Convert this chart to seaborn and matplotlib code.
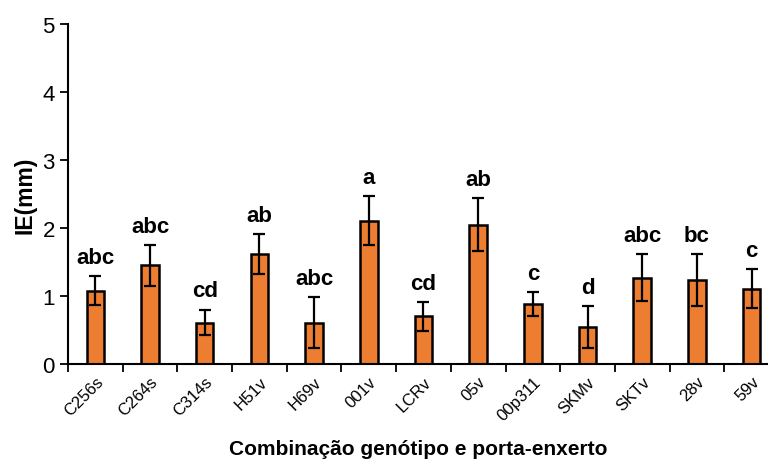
import numpy as np
import pandas as pd
import seaborn as sns
import matplotlib.pyplot as plt
import matplotlib.ticker as mticker

# valores
combinacoes = ["C256s", "C264s", "C314s", "H51v", "H69v", "001v", "LCRv",
               "05v", "00p311", "SKMv", "SKTv", "28v", "59v"]
media_ie = [1.08, 1.45, 0.61, 1.62, 0.61, 2.11, 0.70, 2.05, 0.88, 0.54, 1.27, 1.24, 1.11]
erro_ie = [0.21, 0.30, 0.19, 0.29, 0.37, 0.36, 0.21, 0.39, 0.18, 0.31, 0.35, 0.38, 0.28]
letras = ["abc", "abc", "cd", "ab", "abc", "a", "cd", "ab", "c", "d", "abc", "bc", "c"]

df = pd.DataFrame({"Combinacao": combinacoes, "IE": media_ie})

sns.set_style("white")
plt.rcParams["font.family"] = ["Liberation Sans", "DejaVu Sans"]
plt.rcParams["text.color"] = "black"
plt.rcParams["axes.labelcolor"] = "black"
plt.rcParams["xtick.color"] = "black"
plt.rcParams["ytick.color"] = "black"

fig = plt.figure(figsize=(7.68, 4.64), dpi=100)
ax = fig.add_axes([68 / 768, 1 - 365 / 464, 700 / 768, 340 / 464])

sns.barplot(data=df, x="Combinacao", y="IE", color="#ED7D31", width=0.32,
            edgecolor="black", linewidth=1.8, saturation=1, ax=ax, errorbar=None)

x = np.arange(len(combinacoes))
ax.errorbar(x, media_ie, yerr=erro_ie, fmt="none", ecolor="black",
            elinewidth=1.6, capsize=4.5, capthick=1.6)

for xi, m, e, t in zip(x, media_ie, erro_ie, letras):
    ax.annotate(t, (xi, m + e), xytext=(0, 6), textcoords="offset points",
                ha="center", va="bottom", fontsize=16, fontweight="bold")

ax.set_ylim(0, 5)
ax.set_xlim(-0.5, 12.3)
ax.yaxis.set_major_locator(mticker.MultipleLocator(1))
ax.tick_params(axis="y", labelsize=16, length=6, width=1.3, direction="out", left=True)

ax.set_xticks(x)
ax.set_xticklabels(combinacoes, rotation=45, ha="right", rotation_mode="anchor", fontsize=12)
ax.xaxis.set_minor_locator(mticker.FixedLocator(np.arange(-0.5, 13, 1)))
ax.tick_params(axis="x", which="major", length=0, pad=7)
ax.tick_params(axis="x", which="minor", length=6, width=1.3, direction="out", bottom=True)

for s in ["top", "right"]:
    ax.spines[s].set_visible(False)
for s in ["left", "bottom"]:
    ax.spines[s].set_linewidth(1.5)
    ax.spines[s].set_color("black")

ax.set_ylabel("IE(mm)", fontsize=16.5, fontweight="bold", labelpad=4)
ax.set_xlabel("Combinação genótipo e porta-enxerto", fontsize=15, fontweight="bold", labelpad=12)

plt.savefig("out.png", dpi=100)
